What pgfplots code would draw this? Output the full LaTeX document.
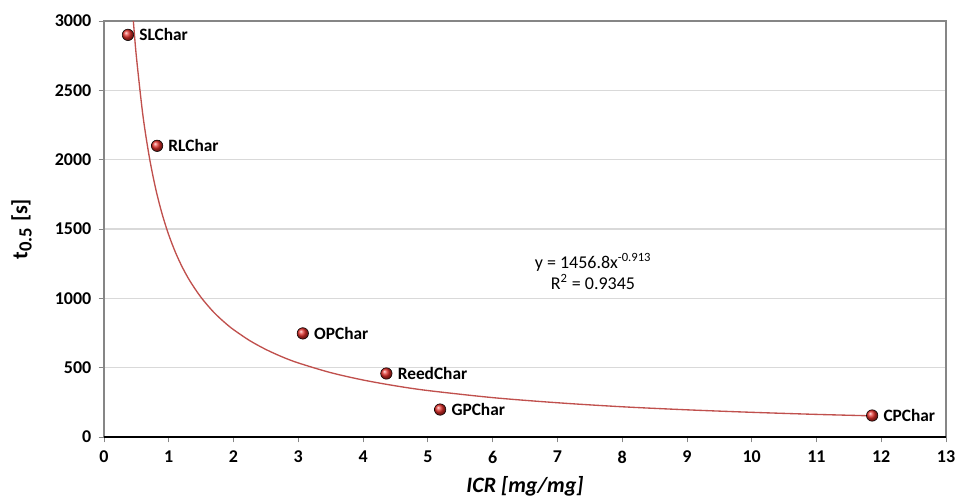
\documentclass[border=0pt]{standalone}
\usepackage{fontspec}
\setmainfont{Carlito}
\usepackage{pgfplots}
\pgfplotsset{compat=1.18}
\definecolor{trend}{RGB}{192,80,77}
\definecolor{gridc}{RGB}{217,217,217}
\definecolor{axisg}{RGB}{134,134,134}
\definecolor{ballc}{RGB}{225,45,40}
\begin{document}
\begin{tikzpicture}
\begin{axis}[
  scale only axis, width=631.5pt, height=312pt,
  xmin=0, xmax=13, ymin=0, ymax=3000,
  xtick={0,1,...,13}, ytick={0,500,...,3000},
  ymajorgrids, major grid style={draw=gridc, line width=0.8pt},
  axis line style={draw=axisg, line width=0.8pt},
  tick pos=left, tick align=outside, major tick length=4pt,
  tick style={draw=axisg, line width=0.6pt},
  /pgf/number format/assume math mode=true,
  /pgf/number format/1000 sep={},
  ticklabel style={font=\fontsize{13.5}{15}\selectfont\bfseries},
  xticklabel style={yshift=-3pt},
  yticklabel style={xshift=-2pt},
  xlabel={\textbf{\textit{ICR [mg/mg]}}},
  ylabel={\textbf{t\textsubscript{\fontsize{14}{15}\selectfont 0.5} [s]}},
  xlabel style={font=\fontsize{16.5}{18}\selectfont, at={(axis description cs:0.5,-0.119)}, anchor=center},
  ylabel style={font=\fontsize{16.5}{18}\selectfont, at={(axis description cs:-0.098,0.5)}, anchor=center},
  clip=false,
]
\addplot[trend, line width=1pt, smooth, tension=0.5, no marks] coordinates {
(0.4533,3000) (0.5,2743) (0.6,2322) (0.7,2018) (0.8,1786) (0.9,1604)
(1,1457) (1.1,1335) (1.2,1233) (1.3,1146) (1.4,1072) (1.5,1006) (1.6,949)
(1.7,897) (1.8,852) (1.9,811) (2,774) (2.25,695)
(2.5,631) (2.75,578) (3,534) (3.5,464) (4,411) (4.5,369) (5,335) (6,284) (7,247)
(8,218) (9,196) (10,178) (11,163) (11.9,152)
};
\draw[black, line width=0.9pt] (rel axis cs:0,0) -- (rel axis cs:1,0);
\addplot[only marks, mark=ball, mark size=4.3pt,
  mark options={ball color=ballc, draw=none},
  nodes near coords, point meta=explicit symbolic,
  every node near coord/.style={anchor=west, xshift=5pt, text=black,
    font=\fontsize{13}{15}\selectfont\bfseries}]
  table[meta=label] {
x y label
0.37 2900 SLChar
0.82 2100 RLChar
3.07 747 OPChar
4.36 458 ReedChar
5.19 198 GPChar
11.86 155 CPChar
};
\node[align=center, font=\fontsize{13.5}{16}\selectfont] at (axis cs:7.55,1195)
  {y = 1456.8x\textsuperscript{-0.913}\\R\textsuperscript{2} = 0.9345};
\end{axis}
\pgfresetboundingbox
\path[use as bounding box] (-78pt,-45.75pt) rectangle (639.75pt,327.75pt);
\end{tikzpicture}
\end{document}
